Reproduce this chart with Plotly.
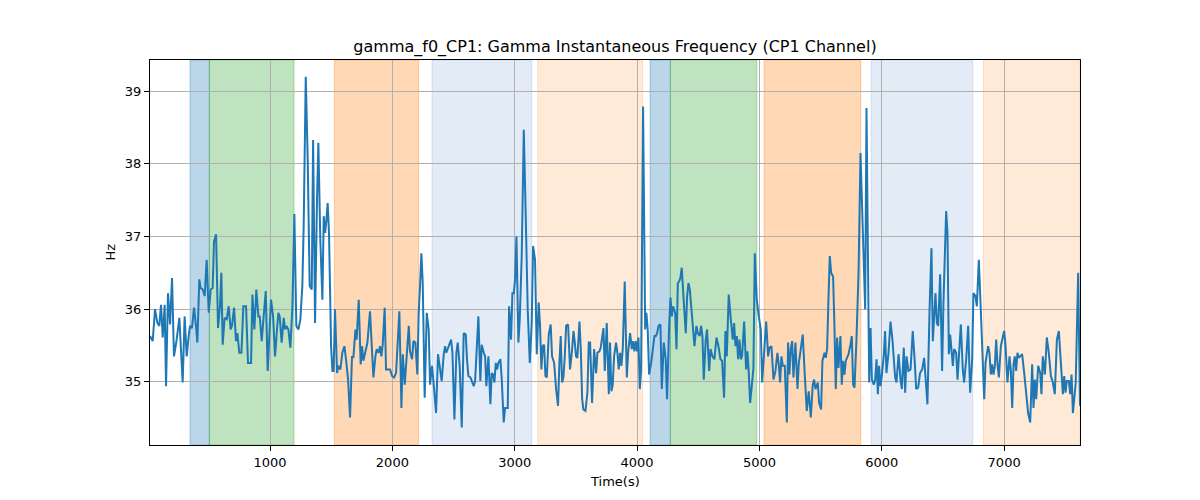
import plotly.graph_objects as go

# ---- data ----
time_s = [
    19, 41, 60, 79, 95, 109, 123, 139, 150, 166, 183, 199, 215, 237, 259, 270, 286, 302, 319, 335,
    346, 362, 379, 395, 406, 422, 433, 450, 466, 482, 499, 515, 531, 542, 559, 575, 591, 602, 613, 629,
    646, 662, 678, 689, 706, 722, 733, 749, 766, 782, 804, 820,
    845, 856, 872, 888, 905, 916, 932, 948, 965, 981, 992, 1008, 1025, 1041, 1057, 1068, 1079, 1095, 1112, 1123,
    1134, 1150, 1166, 1183, 1199, 1215, 1232, 1248, 1264, 1275, 1292, 1308, 1324, 1341, 1352, 1368, 1384, 1395, 1411, 1428,
    1439, 1450, 1461, 1471, 1482, 1499, 1510, 1520, 1531, 1548, 1559, 1575, 1591, 1608,
    1621, 1638, 1654, 1670, 1681, 1698, 1708, 1725, 1741, 1752, 1763, 1779, 1796, 1817, 1834, 1845, 1861, 1872, 1888, 1899,
    1910, 1921, 1937, 1948, 1965, 1981, 1997, 2014, 2030, 2046, 2057, 2074, 2085, 2101, 2117, 2134, 2144, 2161, 2172, 2188,
    2204, 2215, 2226, 2237, 2248, 2264, 2281, 2297, 2308, 2324, 2341, 2357, 2373,
    2387, 2403, 2420, 2431, 2441, 2452, 2469, 2480, 2491, 2507, 2523, 2534, 2550, 2567, 2583, 2600, 2610, 2621, 2638, 2649,
    2665, 2676, 2687, 2703, 2719, 2730, 2747, 2758, 2768, 2785, 2801, 2812, 2823, 2834, 2845, 2856, 2867, 2883, 2894, 2910,
    2921, 2943, 2954, 2970, 2981, 2992, 3003, 3014, 3030, 3041, 3057, 3074, 3090, 3106, 3123, 3139, 3150, 3166,
    3180, 3196, 3207, 3218, 3229, 3240, 3251, 3262, 3278, 3294, 3305, 3322, 3338, 3354, 3365, 3376, 3387, 3398, 3409, 3420,
    3436, 3452, 3469, 3480, 3491, 3501, 3512, 3529, 3540, 3551, 3561, 3578, 3594, 3605, 3616, 3632, 3649, 3665, 3676, 3692,
    3703, 3714, 3725, 3736, 3752, 3769, 3779, 3790, 3801, 3812, 3828, 3839, 3850, 3861, 3872, 3883, 3899, 3916, 3927, 3943,
    3957, 3967, 3978, 3989, 4000, 4011, 4022, 4033, 4049, 4066, 4076, 4087, 4098, 4115, 4131, 4142, 4153, 4164, 4175, 4191,
    4202, 4218, 4234, 4245, 4262, 4273, 4284, 4294, 4311, 4322, 4333, 4343, 4354, 4365, 4382, 4398, 4409, 4420, 4431, 4442,
    4458, 4469, 4485, 4496, 4512, 4523, 4534, 4545, 4561, 4572, 4589, 4600, 4616, 4632, 4649, 4665, 4681,
    4695, 4711, 4722, 4733, 4749, 4766, 4782, 4793, 4804, 4815, 4826, 4837, 4848, 4858, 4875, 4891, 4902, 4913, 4924, 4940,
    4951, 4962, 4978, 4995, 5011, 5022, 5038, 5055, 5071, 5082, 5098, 5115, 5131, 5147, 5158, 5169, 5180, 5191, 5207, 5224,
    5234, 5245, 5256, 5267, 5278, 5294, 5311, 5322, 5338, 5354, 5371, 5387, 5403, 5420, 5436, 5447, 5458,
    5477, 5488, 5504, 5515, 5532, 5542, 5553, 5564, 5575, 5586, 5602, 5613, 5624, 5635, 5646, 5662, 5673, 5684, 5695, 5706,
    5717, 5728, 5744, 5755, 5766, 5777, 5793, 5810, 5826, 5837, 5853, 5864, 5875, 5886, 5897, 5908, 5919, 5935, 5946, 5957,
    5968, 5978, 5989, 6000, 6017, 6027, 6038, 6055, 6071, 6087, 6098, 6109, 6120, 6137, 6153, 6164, 6180, 6191, 6202, 6218,
    6235,
    6253, 6270, 6281, 6297, 6313, 6330, 6346, 6362, 6373, 6390, 6406, 6417, 6428, 6439, 6450, 6461, 6477, 6493, 6504, 6515,
    6526, 6537, 6548, 6559, 6570, 6581, 6591, 6608, 6619, 6635, 6646, 6662, 6673, 6690, 6706, 6722, 6739, 6749, 6766, 6777,
    6793, 6804, 6820, 6837, 6848, 6869, 6880, 6891, 6902, 6913, 6924, 6935, 6946, 6957, 6973, 6989, 7000, 7011, 7027, 7044,
    7055, 7066, 7077, 7087, 7098, 7109, 7120, 7131, 7147, 7164, 7180, 7196, 7213, 7229, 7240, 7251, 7262, 7278, 7295, 7305,
    7316, 7333, 7349, 7365, 7382, 7398, 7414, 7431, 7447, 7463, 7480, 7491, 7502, 7512, 7529, 7540, 7551, 7562, 7585, 7605,
    7620,
]

freq_hz = [
    35.63, 35.56, 36.00, 35.81, 35.77, 36.06, 35.61, 36.06, 34.94, 36.22, 35.79, 36.43, 35.35, 35.58, 35.88, 35.54, 34.99, 35.90, 35.35, 35.63,
    35.77, 35.74, 36.02, 35.77, 35.54, 36.41, 36.29, 36.27, 36.18, 36.68, 35.95, 36.27, 36.29, 36.93, 37.03, 35.74, 36.04, 36.50, 35.51, 35.88,
    35.86, 36.04, 35.72, 35.77, 36.02, 35.56, 35.67, 35.40, 35.40, 36.04, 36.04, 35.26,
    35.26, 36.20, 35.72, 36.27, 35.90, 35.90, 35.56, 35.90, 36.25, 35.15, 35.63, 36.13, 35.90, 35.35, 35.72, 35.95, 35.90, 35.54, 35.88, 35.72,
    35.77, 35.72, 35.47, 36.04, 37.31, 35.77, 35.72, 35.86, 36.32, 37.14, 39.20, 38.06, 36.32, 36.27, 38.33, 35.81, 37.51, 38.29, 36.96, 36.13,
    37.28, 37.05, 37.23, 37.46, 37.05, 35.49, 35.15, 35.15, 36.00, 35.12, 35.22, 35.17, 35.40, 35.49,
    35.31, 35.03, 34.51, 35.35, 35.33, 35.72, 35.58, 36.13, 35.24, 35.49, 35.29, 35.40, 35.54, 35.97, 35.40, 35.06, 35.35, 35.45, 35.40, 35.49,
    35.35, 35.51, 36.02, 35.17, 35.17, 35.17, 35.08, 35.06, 35.12, 35.56, 35.97, 34.64, 35.38, 34.96, 35.35, 35.77, 35.42, 35.31, 35.56, 35.54,
    35.10, 35.95, 36.32, 36.77, 36.36, 34.78, 35.95, 35.72, 34.96, 35.22, 34.90, 34.57, 35.38,
    35.22, 35.01, 35.38, 35.49, 35.40, 35.45, 35.54, 35.58, 35.40, 34.48, 35.40, 35.54, 35.22, 34.37, 35.67, 35.65, 35.31, 35.08, 35.06, 35.01,
    34.94, 35.01, 35.45, 35.90, 35.01, 35.51, 35.40, 35.35, 34.94, 35.35, 34.69, 35.12, 35.10, 34.99, 35.26, 35.17, 35.26, 35.31, 35.03, 34.44,
    34.64, 34.64, 36.04, 35.58, 36.22, 36.22, 36.41, 37.00, 35.54, 35.86, 36.73, 38.47, 37.28, 36.00, 35.26, 35.81, 36.87, 36.68,
    35.38, 36.09, 35.77, 35.17, 35.49, 35.51, 35.08, 35.06, 35.65, 35.79, 35.35, 35.26, 34.90, 34.67, 35.26, 35.63, 34.99, 35.06, 35.35, 35.77,
    35.79, 35.17, 35.45, 35.70, 35.54, 35.35, 35.33, 35.83, 35.45, 34.76, 34.62, 34.60, 34.85, 35.54, 35.54, 34.71, 35.45, 35.12, 35.40, 35.42,
    35.47, 35.61, 35.74, 35.15, 35.81, 34.83, 35.54, 34.87, 34.96, 35.35, 35.54, 35.40, 35.17, 35.40, 35.22, 35.45, 36.38, 35.06, 35.40, 35.67,
    35.45, 35.56, 35.42, 35.56, 35.42, 35.61, 34.90, 35.17, 38.79, 35.72, 35.95, 35.72, 35.10, 35.26, 35.45, 35.63, 35.63, 35.67, 35.77, 35.79,
    34.90, 35.54, 35.31, 34.76, 35.77, 36.16, 35.90, 36.04, 35.95, 35.45, 36.36, 36.38, 36.43, 36.57, 36.09, 35.67, 36.18, 36.36, 36.27, 36.04,
    35.72, 35.49, 35.77, 35.67, 35.63, 35.77, 35.63, 35.03, 35.58, 35.72, 35.15, 35.45, 35.35, 35.31, 35.61, 35.49, 35.31,
    35.29, 34.78, 35.70, 35.35, 36.20, 35.86, 35.58, 35.81, 35.49, 35.63, 35.31, 35.58, 35.31, 35.35, 35.83, 35.17, 35.42, 35.12, 34.71, 34.99,
    35.19, 36.77, 36.13, 35.90, 35.72, 34.99, 35.45, 35.83, 35.35, 35.47, 35.49, 35.03, 35.15, 35.40, 35.24, 34.99, 35.35, 35.22, 35.22, 34.44,
    35.54, 35.10, 35.45, 35.56, 35.06, 35.54, 34.90, 35.26, 35.45, 35.65, 35.08, 34.60, 34.87, 34.51, 34.96, 35.03, 34.90,
    34.99, 34.71, 34.62, 35.29, 35.40, 35.33, 35.45, 36.13, 36.73, 36.50, 36.45, 35.77, 34.90, 35.61, 35.19, 35.63, 34.96, 35.29, 35.10, 35.29,
    35.35, 35.38, 35.51, 35.63, 34.96, 34.92, 35.58, 36.50, 38.15, 37.48, 36.87, 36.00, 38.77, 36.87, 34.99, 35.74, 35.03, 34.96, 35.03, 35.31,
    34.83, 35.22, 34.94, 35.08, 35.38, 35.70, 35.12, 35.40, 35.83, 35.58, 35.35, 35.06, 34.99, 35.38, 35.03, 34.90, 35.47, 34.85, 35.35, 35.15,
    35.17,
    35.70, 35.26, 34.90, 34.92, 35.12, 35.17, 35.33, 34.96, 34.69, 35.97, 36.84, 35.56, 35.95, 36.22, 35.81, 35.77, 36.48, 35.15, 36.09, 36.68,
    37.35, 37.05, 35.38, 35.65, 35.38, 35.22, 35.45, 35.40, 35.03, 35.40, 35.79, 35.17, 34.99, 35.31, 35.77, 34.85, 35.31, 36.22, 36.18, 36.04,
    36.68, 36.22, 35.40, 34.76, 35.26, 35.49, 35.40, 35.10, 35.24, 35.10, 35.22, 35.58, 35.24, 35.06, 35.49, 35.63, 35.70, 35.51, 34.99, 35.35,
    35.15, 34.64, 35.24, 35.35, 35.15, 35.40, 35.33, 35.35, 35.38, 35.12, 34.80, 34.57, 34.44, 35.24, 34.64, 35.03, 34.76, 35.22, 35.12, 34.83,
    35.35, 35.10, 35.61, 35.40, 35.08, 34.99, 34.83, 35.58, 35.70, 35.26, 34.83, 35.08, 34.85, 35.01, 35.01, 34.83, 35.10, 34.57, 34.99, 36.50,
    34.67,
]

span_start = [346, 504, 1526, 2324, 3188, 4106, 4272, 5038, 5913, 6831]
span_end = [504, 1196, 2215, 3139, 4044, 4272, 4978, 5828, 6744, 7620]
span_kind = ["blue", "green", "orange", "lightblue", "lightorange",
             "blue", "green", "orange", "lightblue", "lightorange"]

x_ticks = [1000, 2000, 3000, 4000, 5000, 6000, 7000]
y_ticks = [35, 36, 37, 38, 39]

title_text = "gamma_f0_CP1: Gamma Instantaneous Frequency (CP1 Channel)"
x_label = "Time(s)"
y_label = "Hz"

# ---- styling ----
span_fill = {
    "blue": "rgba(31,119,180,0.3)",
    "green": "rgba(44,160,44,0.3)",
    "orange": "rgba(255,127,14,0.3)",
    "lightblue": "rgba(60,110,200,0.14)",
    "lightorange": "rgba(255,127,14,0.16)",
}
span_edge = {
    "blue": "rgba(31,119,180,0.35)",
    "green": "rgba(44,160,44,0.35)",
    "orange": "rgba(255,127,14,0.35)",
    "lightblue": "rgba(60,110,200,0.16)",
    "lightorange": "rgba(255,127,14,0.2)",
}

FONT = "DejaVu Sans"

fig = go.Figure()
fig.add_trace(go.Scatter(
    x=time_s, y=freq_hz, mode="lines",
    line=dict(color="#1f77b4", width=2),
    showlegend=False, hoverinfo="skip",
))

shapes = []
for s, e, k in zip(span_start, span_end, span_kind):
    shapes.append(dict(
        type="rect", xref="x", yref="paper", x0=s, x1=e, y0=0, y1=1,
        fillcolor=span_fill[k], line=dict(color=span_edge[k], width=1),
        layer="below",
    ))

axis_common = dict(
    showgrid=True, gridcolor="#b0b0b0", gridwidth=0.8,
    showline=True, linecolor="black", linewidth=1, mirror=True,
    ticks="outside", ticklen=5, tickwidth=1, tickcolor="black",
    tickfont=dict(family=FONT, size=13, color="black"),
    zeroline=False,
)

fig.update_layout(
    width=1200, height=500,
    margin=dict(l=150, r=120, t=60, b=55),
    paper_bgcolor="white", plot_bgcolor="white",
    font=dict(family=FONT, color="black"),
    shapes=shapes,
    title=dict(text=title_text, x=0.5, xref="paper", xanchor="center",
               y=1 - 46 / 500, yref="container", yanchor="middle",
               font=dict(family=FONT, size=16, color="black")),
    xaxis=dict(range=[time_s[0], time_s[-1]], tickvals=x_ticks,
               ticktext=[str(v) for v in x_ticks], **axis_common),
    yaxis=dict(range=[34.13, 39.43], tickvals=y_ticks,
               ticktext=[str(v) for v in y_ticks], **axis_common),
    annotations=[
        dict(text=x_label, xref="paper", yref="paper", x=0.5, y=(445 - 481) / 385,
             xanchor="center", yanchor="middle", showarrow=False,
             font=dict(family=FONT, size=13, color="black")),
        dict(text=y_label, xref="paper", yref="paper", x=(110 - 150) / 930, y=0.5,
             xanchor="center", yanchor="middle", showarrow=False, textangle=-90,
             font=dict(family=FONT, size=13, color="black")),
    ],
)

fig.write_html("out.html")
